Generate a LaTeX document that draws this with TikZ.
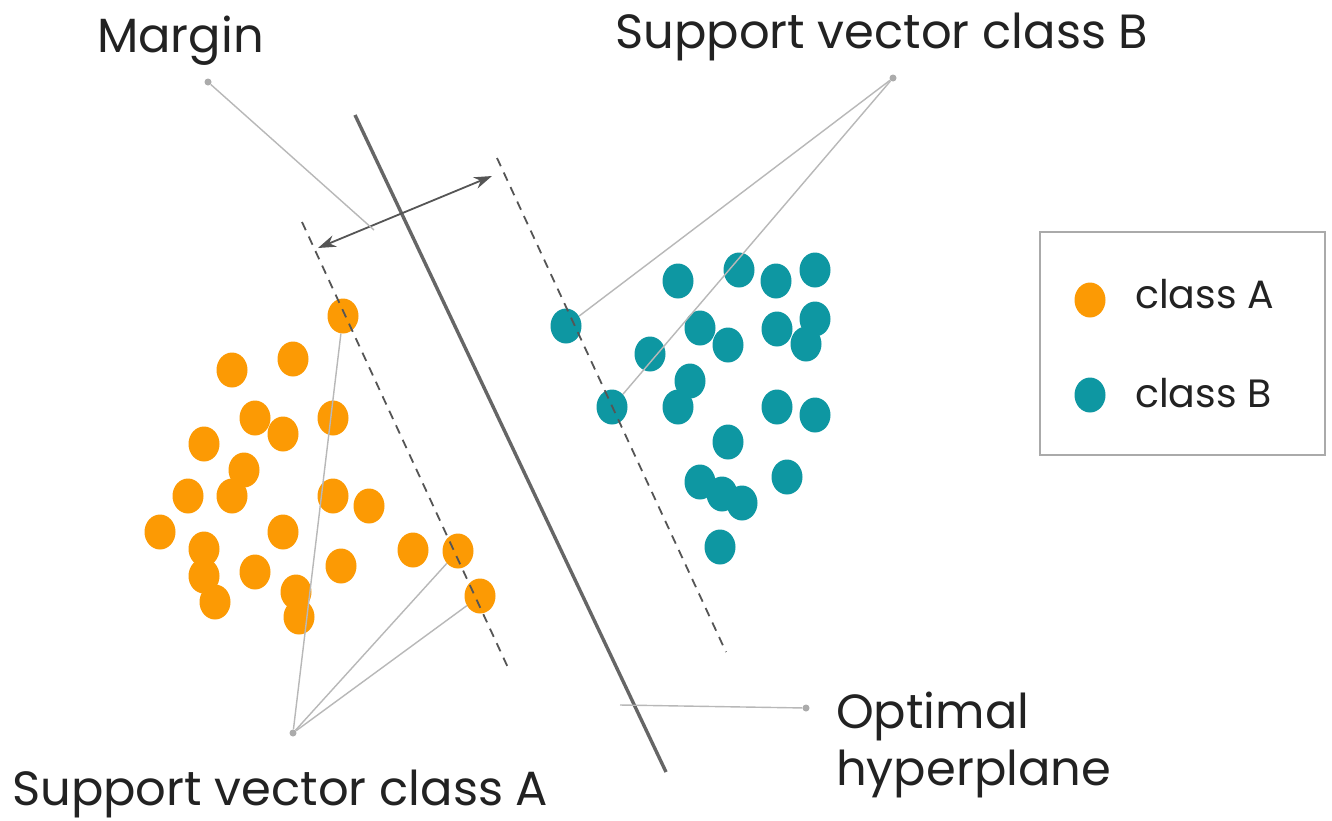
\documentclass[tikz,border=0pt]{standalone}
\usepackage{fontspec}
\setmainfont{Poppins}
\usetikzlibrary{shapes.geometric,arrows.meta}
\definecolor{orA}{HTML}{FC9A04}
\definecolor{tlB}{HTML}{0E97A2}
\definecolor{hyp}{HTML}{666666}
\definecolor{dsh}{HTML}{555555}
\definecolor{cal}{HTML}{B8B8B8}
\definecolor{calD}{HTML}{ABABAB}
\definecolor{txt}{HTML}{222222}
\definecolor{boxc}{HTML}{AAAAAA}
\begin{document}
\begin{tikzpicture}[x=1pt,y=-1pt,
  dotA/.style={ellipse,fill=orA,minimum width=31pt,minimum height=35pt,inner sep=0pt},
  dotB/.style={ellipse,fill=tlB,minimum width=31pt,minimum height=35pt,inner sep=0pt},
  callout/.style={draw=cal,line width=1.4pt},
  calldot/.style={circle,fill=calD,minimum size=7pt,inner sep=0pt},
  marginline/.style={draw=dsh,line width=1.8pt,dash pattern=on 9pt off 7pt},
  hypline/.style={draw=hyp,line width=3.4pt},
  marrow/.style={draw=dsh,line width=1.8pt,{Stealth[length=18pt,width=12pt]}-{Stealth[length=18pt,width=12pt]}},
  lbl/.style={inner sep=0pt,text=txt,font=\fontsize{48}{56}\selectfont},
  leglbl/.style={inner sep=0pt,text=txt,font=\fontsize{39.5}{46}\selectfont},
  legbox/.style={draw=boxc,line width=1.5pt,minimum width=285pt,minimum height=223pt,inner sep=0pt}]
\useasboundingbox (0,0) rectangle (1332,820);
\fill[white] (0,0) rectangle (1332,820);

% class A dots
\node[dotA] (a1) at (343,316) {};
\node[dotA] (a2) at (232,370) {};
\node[dotA] (a3) at (293,359) {};
\node[dotA] (a4) at (255,418) {};
\node[dotA] (a5) at (283,434) {};
\node[dotA] (a6) at (333,418) {};
\node[dotA] (a7) at (204,444) {};
\node[dotA] (a8) at (244,470) {};
\node[dotA] (a9) at (188,496) {};
\node[dotA] (a10) at (232,496) {};
\node[dotA] (a11) at (333,496) {};
\node[dotA] (a12) at (369,506) {};
\node[dotA] (a13) at (160,532) {};
\node[dotA] (a14) at (204,549) {};
\node[dotA] (a15) at (283,532) {};
\node[dotA] (a16) at (255,572) {};
\node[dotA] (a17) at (204,576) {};
\node[dotA] (a18) at (341,566) {};
\node[dotA] (a19) at (413,550) {};
\node[dotA] (a20) at (458,551) {};
\node[dotA] (a21) at (215,602) {};
\node[dotA] (a22) at (296,592) {};
\node[dotA] (a23) at (299,617) {};
\node[dotA] (a24) at (480,596) {};

% class B dots
\node[dotB] (b1) at (678,281) {};
\node[dotB] (b2) at (739,270) {};
\node[dotB] (b3) at (776,281) {};
\node[dotB] (b4) at (815,270) {};
\node[dotB] (b5) at (566,326) {};
\node[dotB] (b6) at (700,328) {};
\node[dotB] (b7) at (728,345) {};
\node[dotB] (b8) at (777,329) {};
\node[dotB] (b9) at (815,319) {};
\node[dotB] (b10) at (806,344) {};
\node[dotB] (b11) at (650,354) {};
\node[dotB] (b12) at (690,381) {};
\node[dotB] (b13) at (612,407) {};
\node[dotB] (b14) at (678,407) {};
\node[dotB] (b15) at (777,407) {};
\node[dotB] (b16) at (815,415) {};
\node[dotB] (b17) at (728,442) {};
\node[dotB] (b18) at (700,482) {};
\node[dotB] (b19) at (722,494) {};
\node[dotB] (b20) at (742,503) {};
\node[dotB] (b21) at (787,477) {};
\node[dotB] (b22) at (720,547) {};

% margin lines and hyperplane
\coordinate (lm1) at (302,222);
\coordinate (lm2) at (510,672);
\coordinate (rm1) at (497,158);
\coordinate (rm2) at (726,652);
\coordinate (h1) at (355,115);
\coordinate (h2) at (666,772);
\draw[marginline] (lm1) -- (lm2);
\draw[marginline] (rm1) -- (rm2);
\draw[hypline] (h1) -- (h2);

% margin arrow
\coordinate (ma1) at (318,248);
\coordinate (ma2) at (492,176);
\draw[marrow] (ma1) -- (ma2);

% callouts
\node[calldot] (cM) at (208,82) {};
\coordinate (cMend) at (374,230);
\draw[callout] (cM) -- (cMend);

\node[calldot] (cB) at (893,78) {};
\draw[callout] (cB) -- (b5);
\draw[callout] (cB) -- (b13);

\node[calldot] (cA) at (293,733) {};
\draw[callout] (cA) -- (a1);
\draw[callout] (cA) -- (a20);
\draw[callout] (cA) -- (a24);

\coordinate (cHstart) at (620,705);
\node[calldot] (cH) at (806,708) {};
\draw[callout] (cHstart) -- (cH);

% labels
\node[lbl,anchor=base west] (tMargin) at (97,52) {Margin};
\node[lbl,anchor=base west] (tSVB) at (615,48) {Support vector class B};
\node[lbl,anchor=base west] (tSVA) at (12,805) {Support vector class A};
\node[lbl,anchor=base west] (tOpt) at (836,728) {Optimal};
\node[lbl,anchor=base west] (tHyp) at (836,785) {hyperplane};

% legend
\node[legbox] (legend) at (1182.5,343.5) {};
\node[dotA] (lA) at (1090,300) {};
\node[dotB] (lB) at (1090,395) {};
\node[leglbl,anchor=base west] (tA) at (1135,308) {class A};
\node[leglbl,anchor=base west] (tB) at (1135,407) {class B};
\end{tikzpicture}
\end{document}
